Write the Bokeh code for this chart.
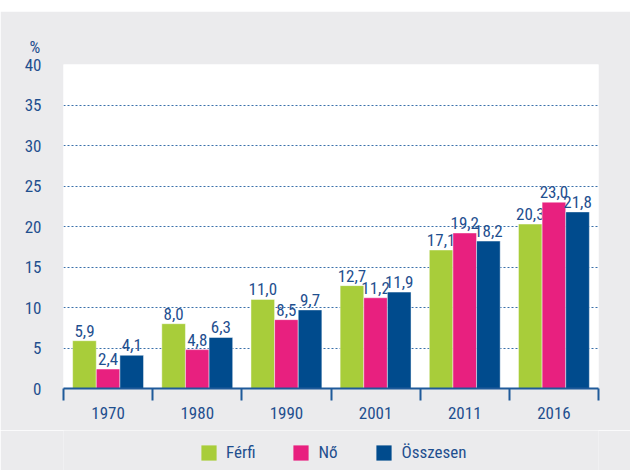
from bokeh.plotting import figure
from bokeh.models import (ColumnDataSource, Range1d, LinearAxis,
                          FixedTicker, Legend, LegendItem, Spacer)
from bokeh.layouts import column
from bokeh.transform import dodge
from bokeh.core.properties import value
from bokeh.embed import file_html
from bokeh.resources import INLINE

years = ["1970", "1980", "1990", "2001", "2011", "2016"]
ferfi = [5.9, 8.0, 11.0, 12.7, 17.1, 20.3]
no = [2.4, 4.8, 8.5, 11.2, 19.2, 23.0]
osszesen = [4.1, 6.3, 9.7, 11.9, 18.2, 21.8]
series_names = ["Férfi", "Nő", "Összesen"]
y_ticks = [0, 5, 10, 15, 20, 25, 30, 35, 40]

FONT = "'Liberation Sans Narrow', 'Arial Narrow', 'Roboto Condensed', sans-serif"
TXT = "#1f4f8f"
GRAY = "#ebebed"
colors = ["#a8cd3a", "#e8207f", "#004b8d"]

def fmt(v):
    return f"{v:.1f}".replace(".", ",")

centers = [i + 0.5 for i in range(len(years))]
src = ColumnDataSource(dict(
    xc=centers, year=years, f=ferfi, n=no, o=osszesen,
    fl=[fmt(v) for v in ferfi], nl=[fmt(v) for v in no], ol=[fmt(v) for v in osszesen],
))

p = figure(width=630, height=419, x_range=Range1d(0, len(years)), y_range=Range1d(0, 40),
           output_backend="svg", toolbar_location=None, x_axis_location=None,
           min_border_left=63, min_border_right=32, min_border_top=53, min_border_bottom=42)
p.background_fill_color = "white"
p.border_fill_color = GRAY
p.outline_line_color = None

p.title.text = "%"
p.title.text_font = FONT
p.title.text_font_size = "17px"
p.title.text_font_style = "normal"
p.title.text_color = TXT
p.title.align = "left"
p.title.offset = -34
p.title.standoff = 15

w = 0.265
offs = [-w, 0, w]
cols = ["f", "n", "o"]
lcols = ["fl", "nl", "ol"]
for c, lc, off, col in zip(cols, lcols, offs, colors):
    p.vbar(x=dodge("xc", off), top=c, width=w, source=src,
           fill_color=col, line_color="white", line_alpha=0.45, line_width=1)
    p.text(x=dodge("xc", off), y=c, text=lc, source=src,
           text_align="center", text_baseline="bottom", y_offset=-4,
           text_font=value(FONT), text_font_size="17px", text_color=TXT)

# y axis
yax = p.yaxis[0]
yax.ticker = FixedTicker(ticks=y_ticks)
yax.axis_line_color = None
yax.major_tick_line_color = None
yax.minor_tick_line_color = None
yax.major_label_text_font = FONT
yax.major_label_text_font_size = "17px"
yax.major_label_text_color = TXT
yax.major_label_standoff = 16

p.xgrid.visible = False
p.ygrid.ticker = FixedTicker(ticks=y_ticks)
p.ygrid.grid_line_color = "#3a70aa"
p.ygrid.grid_line_dash = "2 2"
p.ygrid.grid_line_width = 1

# boundary tick axis
bax = LinearAxis(ticker=FixedTicker(ticks=list(range(len(years) + 1))),
                 major_tick_in=0, major_tick_out=12, minor_tick_line_color=None,
                 major_label_text_font_size="1px", major_label_text_alpha=0, major_label_standoff=0,
                 axis_line_color="#1f5a9a", axis_line_width=2,
                 major_tick_line_color="#1f5a9a", major_tick_line_width=2)
p.add_layout(bax, "below")

# category label axis
cax = LinearAxis(ticker=FixedTicker(ticks=centers),
                 major_label_overrides={c: y for c, y in zip(centers, years)},
                 axis_line_color=None, major_tick_line_color=None, minor_tick_line_color=None,
                 major_label_text_font=FONT, major_label_text_font_size="17px",
                 major_label_text_color=TXT, major_label_standoff=0)
p.add_layout(cax, "below")

# legend strip (its frame is aligned with the chart frame by the column layout)
lg = figure(width=630, height=40, output_backend="svg", toolbar_location=None,
            x_axis_location=None, y_axis_location=None, min_border=0,
            x_range=Range1d(0, len(years)), y_range=Range1d(0, 40))
lg.background_fill_color = GRAY
lg.border_fill_color = GRAY
lg.outline_line_color = None
lg.xgrid.visible = False
lg.ygrid.visible = False
lrs = []
for c, off, col in zip(cols, offs, colors):
    r = lg.vbar(x=dodge("xc", off), top=c, width=w, source=src,
                fill_color=col, line_color=None)
    r.visible = False
    lrs.append(r)
legend = Legend(items=[LegendItem(label=n, renderers=[r]) for n, r in zip(series_names, lrs)],
                orientation="horizontal", location=(136, 8),
                glyph_width=19, glyph_height=19, label_text_font=FONT, label_text_font_size="17px",
                label_text_color=TXT, label_standoff=8, spacing=36,
                background_fill_alpha=0, border_line_color=None, margin=0, padding=4,
                inactive_fill_alpha=0)
lg.add_layout(legend)

layout = column(Spacer(width=630, height=11), p, lg, spacing=0)
open("out.html", "w").write(file_html(layout, INLINE))
